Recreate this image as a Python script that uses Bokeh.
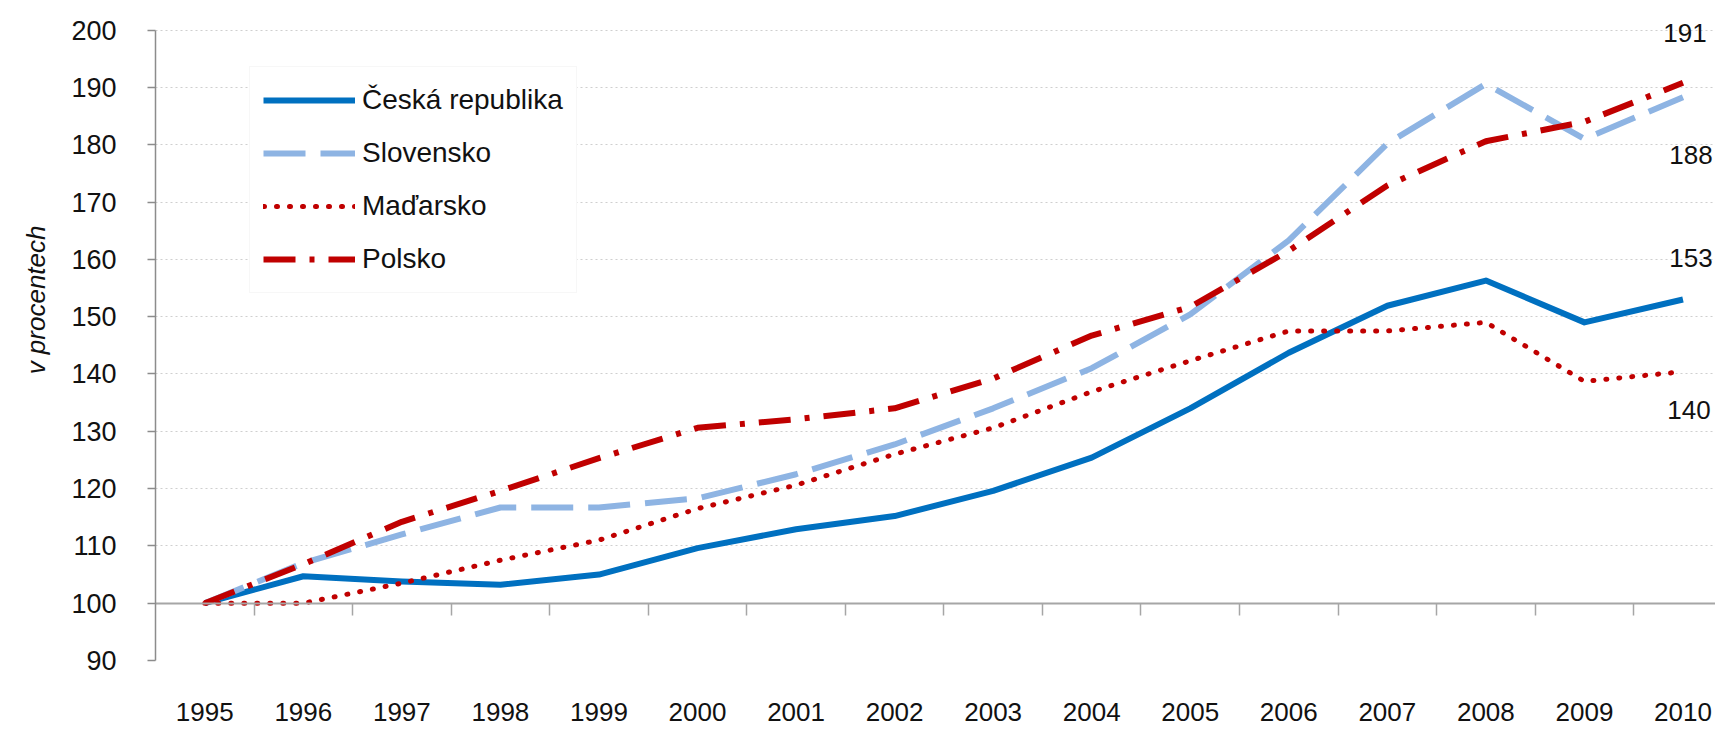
from bokeh.plotting import figure
from bokeh.models import (Range1d, FixedTicker, SingleIntervalTicker, LinearAxis,
                          Legend, LegendItem, Label, Title)
from bokeh.embed import file_html
from bokeh.resources import INLINE

years = ["1995", "1996", "1997", "1998", "1999", "2000", "2001", "2002",
         "2003", "2004", "2005", "2006", "2007", "2008", "2009", "2010"]
ceska = [100, 104.7, 103.8, 103.2, 105.0, 109.6, 112.9, 115.2, 119.6, 125.4,
         134.0, 143.7, 151.9, 156.3, 149.0, 153.0]
slovensko = [100, 107.0, 112.0, 116.7, 116.7, 118.3, 122.5, 127.7, 134.0, 141.0,
             150.4, 163.3, 180.2, 190.6, 181.0, 188.3]
madarsko = [100, 100.0, 103.5, 107.5, 111.0, 116.5, 120.6, 126.0, 130.6, 136.9,
            142.3, 147.5, 147.5, 149.0, 138.7, 140.4]
polsko = [100, 106.8, 114.2, 119.6, 125.3, 130.6, 132.1, 134.0, 139.2, 146.7,
          151.7, 161.5, 172.9, 180.6, 184.0, 190.8]
names = ["Česká republika", "Slovensko", "Maďarsko", "Polsko"]
series = [ceska, slovensko, madarsko, polsko]
y_title = "v procentech"
y_min, y_max = 90, 200

FONT = "Liberation Sans"
TXT = "#111111"
xs = list(range(len(years)))

# a little head-room above 200 so that the top end label is not clipped
p = figure(width=1715, height=730, x_range=Range1d(-0.5, 15.33), y_range=Range1d(y_min, y_max + 2.2),
           output_backend="svg", toolbar_location=None,
           min_border_left=153, min_border_top=17, min_border_right=0, min_border_bottom=70)
p.outline_line_color = None
p.background_fill_color = "white"

# y axis
p.yaxis.ticker = SingleIntervalTicker(interval=10)
p.yaxis.bounds = (y_min, y_max)
p.yaxis.axis_line_color = "#8C8C8C"
p.yaxis.axis_line_width = 1.5
p.yaxis.major_tick_line_color = "#8C8C8C"
p.yaxis.major_tick_line_width = 1.5
p.yaxis.major_tick_out = 8
p.yaxis.major_tick_in = 0
p.yaxis.minor_tick_line_color = None
p.yaxis.major_label_standoff = 31
p.yaxis.major_label_text_font = FONT
p.yaxis.major_label_text_font_size = "27px"
p.yaxis.major_label_text_color = TXT

# y-axis title as a side-panel title, placed higher than centre like the original
p.add_layout(Title(text=y_title, align="right", offset=208, standoff=36,
                   text_font=FONT, text_font_style="italic", text_font_size="26px",
                   text_color=TXT), "left")

# x labels axis at bottom
p.xaxis.ticker = FixedTicker(ticks=xs)
p.xaxis.major_label_overrides = {i: y for i, y in zip(xs, years)}
p.xaxis.axis_line_color = None
p.xaxis.major_tick_line_color = None
p.xaxis.minor_tick_line_color = None
p.xaxis.major_label_standoff = 36
p.xaxis.major_label_text_font = FONT
p.xaxis.major_label_text_font_size = "26px"
p.xaxis.major_label_text_color = TXT

# category axis line at 100 with ticks between categories
bounds = [i + 0.5 for i in xs[:-1]]
ax100 = LinearAxis(ticker=FixedTicker(ticks=bounds), fixed_location=100,
                   major_tick_in=12, major_tick_out=0,
                   axis_line_color="#A6A6A6", axis_line_width=2,
                   major_tick_line_color="#A6A6A6", major_tick_line_width=1.5,
                   minor_tick_line_color=None,
                   major_label_overrides={b: "" for b in bounds},
                   major_label_text_font_size="1px", major_label_standoff=0)
p.add_layout(ax100, "above")

p.xgrid.visible = False
p.ygrid.ticker = SingleIntervalTicker(interval=10)
p.ygrid.grid_line_color = "#CFCFCF"
p.ygrid.grid_line_dash = "2 3"
p.ygrid.grid_line_width = 1.2

styles = [
    dict(line_color="#0070C0", line_width=6, line_dash="solid", line_cap="butt", line_join="round"),
    dict(line_color="#8EB4E3", line_width=6, line_dash="42 15", line_cap="butt", line_join="round"),
    dict(line_color="#C00000", line_width=5, line_dash="1 12", line_cap="round", line_join="round"),
    dict(line_color="#C00000", line_width=6, line_dash="32 14 5 14", line_cap="butt", line_join="round"),
]
renderers = []
for vals, st in zip(series, styles):
    r = p.line(xs, vals, **st)
    renderers.append(r)

legend = Legend(items=[LegendItem(label=n, renderers=[r]) for n, r in zip(names, renderers)],
                location=(94, 367), padding=13, spacing=13, margin=0,
                glyph_width=92, glyph_height=40, label_height=40, label_standoff=7,
                label_text_font=FONT, label_text_font_size="28px", label_text_color=TXT,
                background_fill_color="white", background_fill_alpha=1.0,
                border_line_color="#F0F0F0", border_line_width=1)
p.add_layout(legend)

# end value labels
label_x_off = [8, 8, 6, 2]
label_y_off = [41, -58, -38, 50]
for s, xo, yo in zip(series, label_x_off, label_y_off):
    p.add_layout(Label(x=xs[-1], y=s[-1], text=str(int(round(s[-1]))),
                       x_offset=xo, y_offset=yo,
                       text_font=FONT, text_font_size="26px", text_color=TXT,
                       text_align="center", text_baseline="middle"))

open("out.html", "w").write(file_html(p, INLINE))
